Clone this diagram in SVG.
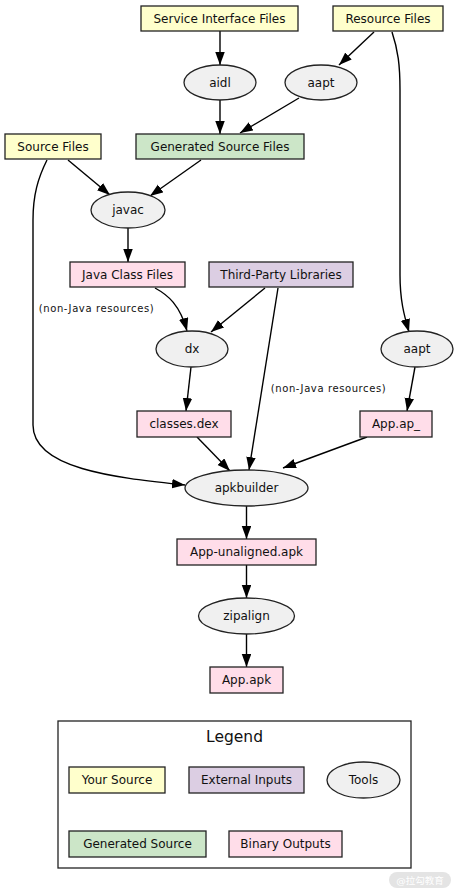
<svg xmlns="http://www.w3.org/2000/svg" width="459" height="895" viewBox="0 0 459 895">
<defs>
<marker id="ah" markerUnits="userSpaceOnUse" markerWidth="14" markerHeight="10" refX="13" refY="4.75" orient="auto">
<path d="M0,0 L13,4.75 L0,9.5 z" fill="#000"/>
</marker>
<style>
.src{fill:#ffffcc;stroke:#222;stroke-width:1.3}
.gen{fill:#cce6c8;stroke:#222;stroke-width:1.3}
.ext{fill:#dccee3;stroke:#222;stroke-width:1.3}
.bin{fill:#ffdde9;stroke:#222;stroke-width:1.3}
.tool{fill:#f0f0f0;stroke:#222;stroke-width:1.3}
text{font-family:"DejaVu Sans","Liberation Sans",sans-serif;font-size:12px;fill:#111;text-anchor:middle}
.lbl{font-size:10px;letter-spacing:0.6px}
.edges path{fill:none;stroke:#000;stroke-width:1.4;marker-end:url(#ah)}
</style>
</defs>
<rect width="459" height="895" fill="#fff"/>

<g class="edges" id="connectors">
<path d="M220,31 L220,65"/>
<path d="M374,32 L339,65"/>
<path d="M392,32 C398,50 400,65 400,90 L400,275 C400,300 404,315 409,332"/>
<path d="M220,100 L220,134"/>
<path d="M299,98 L240,133"/>
<path d="M68,160 L110,195"/>
<path d="M201,160 L150,196"/>
<path d="M47,160 C38,178 33,195 33,220 L33,425 C33,470 120,478 185,485"/>
<path d="M128,228 L128,262"/>
<path d="M155,288 C168,295 180,305 187,331"/>
<path d="M265,288 L211,332"/>
<path d="M278,288 L249,470"/>
<path d="M191,367 L186,411"/>
<path d="M415,367 L407,411"/>
<path d="M197,437 L230,471"/>
<path d="M367,437 L283,468"/>
<path d="M246.5,506 L246.5,539"/>
<path d="M246.5,565 L246.5,598"/>
<path d="M246.5,634 L246.5,667"/>
<text class="lbl" x="96.5" y="312">(non-Java resources)</text>
<text class="lbl" x="328.5" y="392">(non-Java resources)</text>
</g>

<g id="service_interface_files"><rect class="src" x="141" y="6" width="157" height="25"/><text x="219.5" y="22.8">Service Interface Files</text></g>
<g id="resource_files"><rect class="src" x="333" y="6" width="110" height="25"/><text x="388" y="22.8">Resource Files</text></g>
<g id="aidl"><ellipse class="tool" cx="220" cy="82.5" rx="36" ry="17.5"/><text x="220" y="86.8">aidl</text></g>
<g id="aapt1"><ellipse class="tool" cx="321" cy="82.5" rx="36" ry="17.5"/><text x="321" y="86.8">aapt</text></g>
<g id="source_files"><rect class="src" x="5" y="134" width="96" height="25"/><text x="53" y="150.8">Source Files</text></g>
<g id="generated_source_files"><rect class="gen" x="136" y="134" width="168" height="25"/><text x="220" y="150.8">Generated Source Files</text></g>
<g id="javac"><ellipse class="tool" cx="128" cy="210" rx="37" ry="18"/><text x="128" y="214.3">javac</text></g>
<g id="java_class_files"><rect class="bin" x="70" y="262" width="115" height="25"/><text x="127.5" y="278.8">Java Class Files</text></g>
<g id="third_party_libraries"><rect class="ext" x="209" y="262" width="144" height="25"/><text x="281" y="278.8">Third-Party Libraries</text></g>
<g id="dx"><ellipse class="tool" cx="192" cy="349" rx="36" ry="18"/><text x="192" y="353.3">dx</text></g>
<g id="aapt2"><ellipse class="tool" cx="417" cy="349" rx="36" ry="18"/><text x="417" y="353.3">aapt</text></g>
<g id="classes_dex"><rect class="bin" x="137" y="411" width="94" height="26"/><text x="184" y="428.3">classes.dex</text></g>
<g id="app_ap"><rect class="bin" x="360" y="411" width="72" height="26"/><text x="396" y="428.3">App.ap_</text></g>
<g id="apkbuilder"><ellipse class="tool" cx="246.5" cy="488" rx="61.5" ry="18"/><text x="246.5" y="492.3">apkbuilder</text></g>
<g id="app_unaligned"><rect class="bin" x="177" y="539" width="139" height="26"/><text x="246.5" y="556.3">App-unaligned.apk</text></g>
<g id="zipalign"><ellipse class="tool" cx="246.5" cy="616" rx="48" ry="18"/><text x="246.5" y="620.3">zipalign</text></g>
<g id="app_apk"><rect class="bin" x="210" y="667" width="73" height="26"/><text x="246.5" y="684.3">App.apk</text></g>

<g id="legend">
<rect x="58" y="721" width="353" height="147" fill="#fff" stroke="#222" stroke-width="1.3"/>
<text x="234.5" y="741.5" style="font-size:15.5px">Legend</text>
<g id="legend_your_source"><rect class="src" x="69" y="767" width="96" height="26"/><text x="117" y="784.3">Your Source</text></g>
<g id="legend_external_inputs"><rect class="ext" x="189" y="767" width="115" height="26"/><text x="246.5" y="784.3">External Inputs</text></g>
<g id="legend_tools"><ellipse class="tool" cx="363.5" cy="780" rx="36.5" ry="18"/><text x="363.5" y="784.3">Tools</text></g>
<g id="legend_generated_source"><rect class="gen" x="69" y="831" width="137" height="26"/><text x="137.5" y="848.3">Generated Source</text></g>
<g id="legend_binary_outputs"><rect class="bin" x="229" y="831" width="113" height="26"/><text x="285.5" y="848.3">Binary Outputs</text></g>
</g>

<g id="watermark">
<rect x="389" y="872" width="62" height="16" rx="8" fill="#e4e4e4"/>
<text x="420" y="883.5" style="font-size:9.5px;fill:#fff;font-family:'DejaVu Sans','Noto Sans CJK SC',sans-serif">@拉勾教育</text>
</g>
</svg>
